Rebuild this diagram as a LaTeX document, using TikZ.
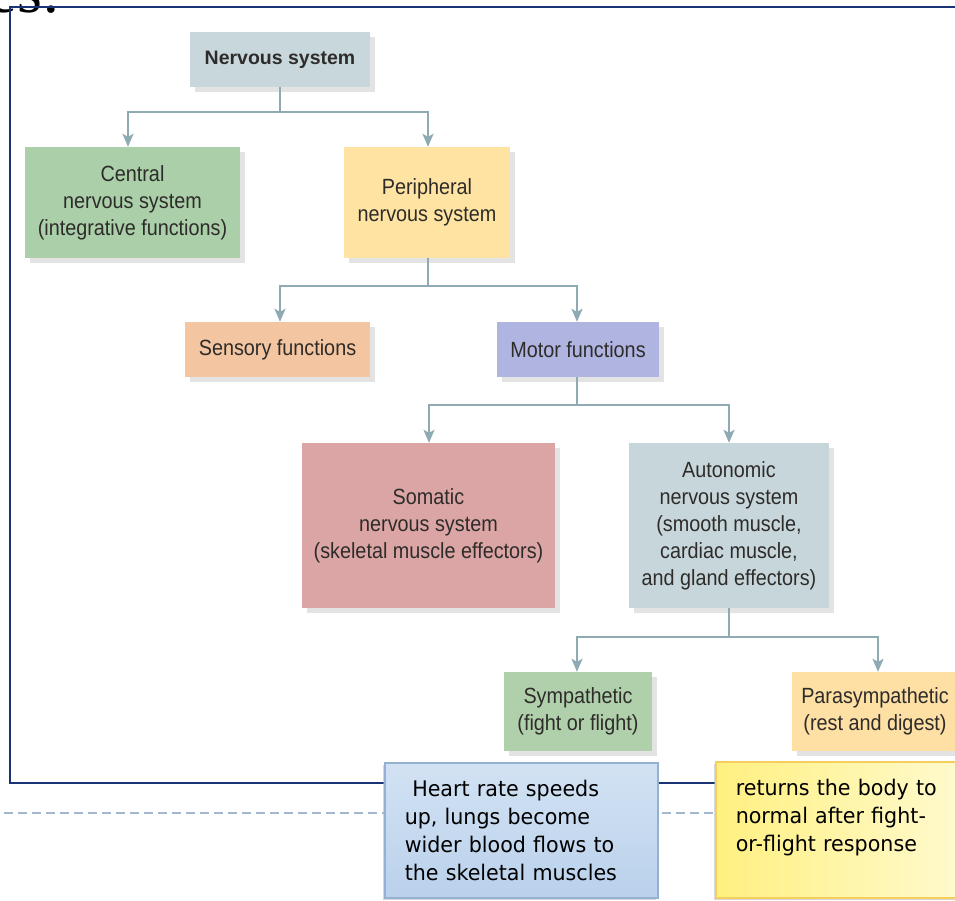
\documentclass[tikz,border=0pt]{standalone}
\usepackage{fontspec}
\setmainfont{Liberation Sans}
\newfontfamily\boxfont[FakeStretch=0.9]{Liberation Sans}
\newfontfamily\callfont[FakeStretch=0.96]{DejaVu Sans}
\newfontfamily\titlefont{Liberation Serif}
\usetikzlibrary{arrows.meta,shadows,calc}
\definecolor{txt}{HTML}{2E2C2A}
\definecolor{connc}{HTML}{8FAAB2}
\definecolor{framec}{HTML}{1B3275}
\definecolor{dashc}{HTML}{A3B8CF}
\definecolor{cNS}{HTML}{C8D7DC}
\definecolor{cCNS}{HTML}{AACFA9}
\definecolor{cPNS}{HTML}{FEE3A2}
\definecolor{cSEN}{HTML}{F3C5A1}
\definecolor{cMOT}{HTML}{AFB5E0}
\definecolor{cSOM}{HTML}{DAA5A4}
\definecolor{cAUT}{HTML}{C7D6DB}
\definecolor{cSYM}{HTML}{B0D0AB}
\definecolor{cPAR}{HTML}{FEDFA4}
\definecolor{blueT}{HTML}{D2E2F3}
\definecolor{blueB}{HTML}{BAD1EC}
\definecolor{blueD}{HTML}{94B1D3}
\definecolor{yelL}{HTML}{FFF080}
\definecolor{yelR}{HTML}{FFFAD0}
\definecolor{yelD}{HTML}{F4CF5E}
\begin{document}
\begin{tikzpicture}[x=1pt,y=-1pt,
  box/.style={fill=#1, text=txt, align=center, inner sep=0pt,
    font=\boxfont\fontsize{22}{27}\selectfont,
    drop shadow={shadow xshift=5pt, shadow yshift=-5pt, fill=black!11, opacity=1}},
  seg/.style={draw=connc, line width=2pt},
  arr/.style={draw=connc, line width=2pt, -{Stealth[length=13pt,width=11pt,inset=3pt]}},
  frameline/.style={draw=framec, line width=2pt},
  dashline/.style={draw=dashc, line width=2pt, dash pattern=on 9pt off 5pt},
  callout/.style={draw=#1, line width=1.5pt, text=black, align=left,
    inner xsep=20pt, inner ysep=0pt, anchor=north west,
    font=\callfont\fontsize{21.5}{28}\selectfont,
    drop shadow={shadow xshift=-2pt, shadow yshift=-2pt, fill=black!30, opacity=.5}}
]
\useasboundingbox (0,0) rectangle (955,900);

% cut-off title fragment
\begin{scope}
\clip (0,0) rectangle (955,900);
\node[anchor=base east, inner sep=0pt, font=\titlefont\fontsize{64}{64}\selectfont] (ttl) at (60,12) {es:};
\end{scope}

% frame and dashed rule
\draw[frameline] (965,7) -- (10,7) -- (10,783) -- (965,783);
\draw[dashline] (4,813) -- (720,813);

% boxes
\node[box=cNS, minimum width=180pt, minimum height=55pt, font=\bfseries\fontsize{19.5}{27}\selectfont] (ns) at (280,59.5) {Nervous system};
\node[box=cCNS, minimum width=215pt, minimum height=111pt] (cns) at (132.5,202.5) {Central\\nervous system\\(integrative functions)};
\node[box=cPNS, minimum width=166pt, minimum height=111pt] (pns) at (427,202.5) {Peripheral\\nervous system};
\node[box=cSEN, minimum width=185pt, minimum height=55pt] (sen) at (277.5,349.5) {Sensory functions};
\node[box=cMOT, minimum width=162pt, minimum height=55pt] (mot) at (578,349.5) {Motor functions};
\node[box=cSOM, minimum width=253pt, minimum height=165pt] (som) at (428.5,525.5) {Somatic\\nervous system\\(skeletal muscle effectors)};
\node[box=cAUT, minimum width=200pt, minimum height=165pt] (aut) at (729,525.5) {Autonomic\\nervous system\\(smooth muscle,\\cardiac muscle,\\and gland effectors)};
\node[box=cSYM, minimum width=148pt, minimum height=79pt] (sym) at (578,711.5) {Sympathetic\\(fight or flight)};
\node[box=cPAR, minimum width=166pt, minimum height=79pt] (par) at (875,711.5) {Parasympathetic\\(rest and digest)};

% connectors
\coordinate (j1) at ($(ns.south)+(0,25)$);
\draw[seg] (ns.south) -- (j1);
\draw[arr] (j1) -| ($(cns.north)+(-4.5,0)$);
\draw[arr] (j1) -| ($(pns.north)+(1,0)$);

\coordinate (j2) at ($(pns.south)+(1,28)$);
\draw[seg] ($(pns.south)+(1,0)$) -- (j2);
\draw[arr] (j2) -| ($(sen.north)+(2.5,0)$);
\draw[arr] (j2) -| ($(mot.north)+(-1,0)$);

\coordinate (j3) at ($(mot.south)+(-1,28)$);
\draw[seg] ($(mot.south)+(-1,0)$) -- (j3);
\draw[arr] (j3) -| ($(som.north)+(0.5,0)$);
\draw[arr] (j3) -| (aut.north);

\coordinate (j4) at ($(aut.south)+(0,29)$);
\draw[seg] (aut.south) -- (j4);
\draw[arr] (j4) -| ($(sym.north)+(-1,0)$);
\draw[arr] (j4) -| ($(par.north)+(3,0)$);

% callouts
\node[callout=blueD, top color=blueT, bottom color=blueB,
  minimum width=273pt, minimum height=135pt, text width=233pt] (heart) at (384,762)
  {\hspace*{0.35em}Heart rate speeds\\up, lungs become\\wider blood flows to\\the skeletal muscles};
\node[callout=yelD, left color=yelL, right color=yelR,
  minimum width=250pt, minimum height=136pt, text width=210pt] (ret) at (715,761)
  {returns the body to\\normal after fight-\\or-flight response\\\mbox{}};
\end{tikzpicture}
\end{document}
